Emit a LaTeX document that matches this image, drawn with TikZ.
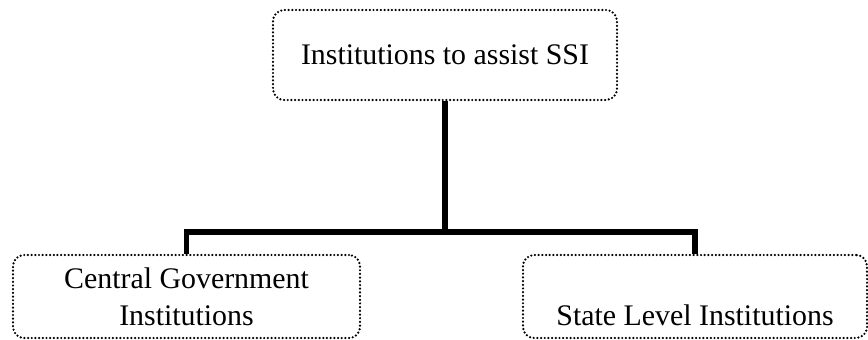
\documentclass[tikz,border=0pt]{standalone}
\usepackage{fontspec}
\setmainfont{Liberation Serif}
\begin{document}
\begin{tikzpicture}[
  box/.style={draw, rounded corners=0.22cm, line width=1.4pt, line cap=round, dash pattern=on 0pt off 2.1pt, align=center, font=\fontsize{17}{21}\selectfont, inner sep=0pt},
  link/.style={line width=3.2pt}]
  \useasboundingbox (0,0) rectangle (17.36,6.78);
  \coordinate (J) at (8.9,2.14);
  \node[box, minimum width=6.88cm, minimum height=1.8cm] (I) at (8.9,5.68) {Institutions to assist SSI};
  \node[box, minimum width=6.94cm, minimum height=1.66cm] (C) at (3.73,0.85) {Central Government\\Institutions};
  \node[box, minimum width=6.88cm, text height=1.4cm, text depth=0.26cm] (S) at (13.9,0.85) {State Level Institutions};
  \draw[link] (I) -- (J);
  \draw[link] (C) |- (J) -| (S);
\end{tikzpicture}
\end{document}
